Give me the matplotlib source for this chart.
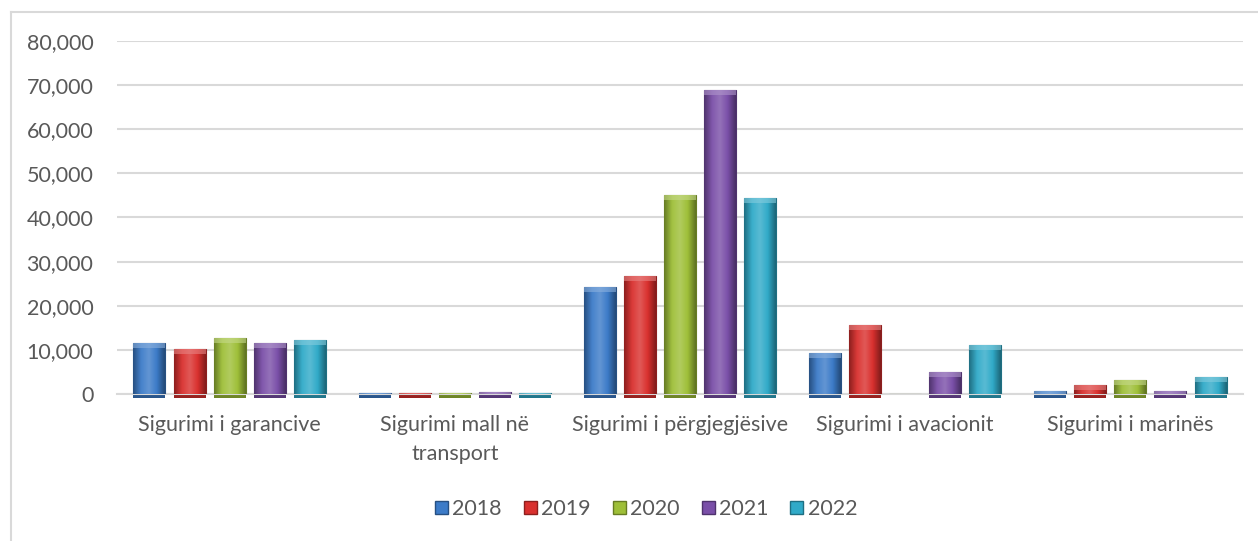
import matplotlib
matplotlib.use("Agg")
import matplotlib.pyplot as plt
import numpy as np
from matplotlib.colors import LinearSegmentedColormap, to_rgb
from matplotlib.patches import Rectangle
from matplotlib.ticker import FuncFormatter

categories = ["Sigurimi i garancive", "Sigurimi mall në\ntransport",
              "Sigurimi i përgjegjësive", "Sigurimi i avacionit", "Sigurimi i marinës"]
years = ["2018", "2019", "2020", "2021", "2022"]
v2018 = [11500, 150, 24300, 9300, 600]
v2019 = [10200, 150, 26800, 15600, 2000]
v2020 = [12700, 150, 45100, 0, 3200]
v2021 = [11500, 500, 68900, 5000, 600]
v2022 = [12200, 150, 44400, 11100, 3800]
series = [v2018, v2019, v2020, v2021, v2022]
colors = ["#3c7bc8", "#d9302e", "#9ebf38", "#7a4fa8", "#30aac8"]

plt.rcParams['font.family'] = ['Lato', 'DejaVu Sans']
txt = "#595959"
fs = 15.5
fig = plt.figure(figsize=(12.58, 5.41), dpi=100)
ax = fig.add_axes([117/1258, 147/541, (1243-117)/1258, (394-41)/541])

x = np.arange(len(categories))
slot = 0.178
bw = 0.142

def shade(c, f):
    r = np.array(to_rgb(c))
    if f >= 0:
        return tuple(r + (1 - r) * f)
    return tuple(r * (1 + f))

for i, (vals, col) in enumerate(zip(series, colors)):
    pos = x + (i - 2) * slot
    bars = ax.bar(pos, vals, width=bw, color=col, edgecolor=shade(col, -0.35),
                  linewidth=0.8, zorder=3)
    cmap = LinearSegmentedColormap.from_list(
        "g", [shade(col, -0.35), shade(col, 0.05), shade(col, 0.2), shade(col, 0.0), shade(col, -0.4)])
    grad = np.linspace(0, 1, 64).reshape(1, -1)
    for b, v in zip(bars, vals):
        if v <= 0:
            continue
        x0 = b.get_x()
        im = ax.imshow(grad, cmap=cmap, extent=[x0, x0 + bw, 0, v], aspect="auto",
                       zorder=3.5, interpolation="bicubic")
        im.set_clip_path(b)
        cap = min(1100, v)
        ax.add_patch(Rectangle((x0, v - cap), bw, cap, facecolor=shade(col, 0.4),
                               edgecolor="none", alpha=0.6, zorder=4))
        ax.add_patch(Rectangle((x0, -900), bw, 900, facecolor=shade(col, -0.3),
                               edgecolor="none", zorder=2, clip_on=False))

ax.set_xlim(-0.5, 4.5)
ax.set_ylim(0, 80000)
ax.set_yticks(np.arange(0, 80001, 10000))
ax.yaxis.set_major_formatter(FuncFormatter(lambda v, p: f"{int(v):,}"))
ax.set_xticks(x)
ax.set_xticklabels(categories, linespacing=1.6)
ax.grid(axis="y", color="#d9d9d9", linewidth=1.5, zorder=0)
for s in ["top", "right", "left"]:
    ax.spines[s].set_visible(False)
ax.spines["bottom"].set_color("#d9d9d9")
ax.spines["bottom"].set_linewidth(1.5)
ax.spines["bottom"].set_zorder(2.5)
ax.tick_params(axis="both", length=0, colors=txt, labelsize=fs)
ax.tick_params(axis="y", pad=17)
ax.tick_params(axis="x", pad=15)

handles = [Rectangle((0, 0), 1, 1, facecolor=c, edgecolor=shade(c, -0.35)) for c in colors]
fig.legend(handles, years, loc="center", bbox_to_anchor=(646/1258, 1 - 509/541), ncol=5,
           frameon=False, fontsize=fs, handlelength=0.6, handleheight=0.6,
           handletextpad=0.2, columnspacing=1.03, labelcolor=txt)

# chart border (left and top visible)
fig.add_artist(plt.Line2D([11/1258, 11/1258], [0, 1 - 12/541], color="#d9d9d9", lw=1.5,
                          transform=fig.transFigure))
fig.add_artist(plt.Line2D([11/1258, 1], [1 - 12/541, 1 - 12/541], color="#d9d9d9", lw=1.5,
                          transform=fig.transFigure))

fig.savefig("out.png", dpi=100)
